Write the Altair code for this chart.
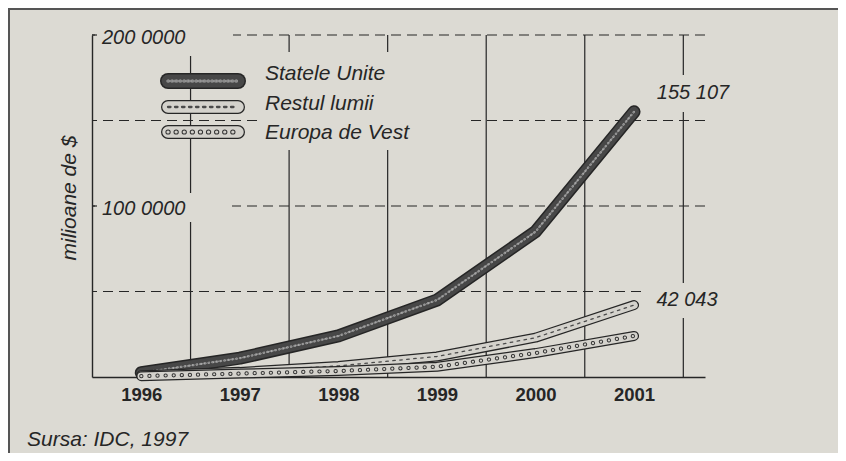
import altair as alt
import pandas as pd

# ---- data ----
years = [1996, 1997, 1998, 1999, 2000, 2001]
statele_unite = [2500, 11000, 24000, 45000, 85000, 155107]
restul_lumii = [1000, 3000, 6500, 12000, 23000, 42043]
europa_de_vest = [500, 2000, 3500, 6000, 14000, 24000]
series_names = ["Statele Unite", "Restul lumii", "Europa de Vest"]
grid_values = [50000, 100000, 150000, 200000]
tick_values = [100000, 200000]
tick_labels = ["100 0000", "200 0000"]
end_labels = ["155 107", "42 043"]
y_title = "milioane de $"
source_text = "Sursa: IDC, 1997"

# ---- styling ----
BG = "#dcdad3"
INK = "#262626"
W, H = 613, 342
FONT = "Liberation Sans, Arial, sans-serif"
BOLDFONT = "Liberation Sans, Arial, sans-serif"

df = pd.DataFrame({
    "year": years * 3,
    "value": statele_unite + restul_lumii + europa_de_vest,
    "series": [n for n in series_names for _ in years],
})
one = pd.DataFrame({"a": [0]})

xs = alt.Scale(domain=[1995.5, 2001.72], nice=False, zero=False)
ys = alt.Scale(domain=[0, 200000], nice=False)
xaxis = alt.Axis(title=None, values=years, format="d", labelFont=BOLDFONT,
                 labelFontSize=18.5, labelFontWeight="bold", labelColor=INK,
                 labelPadding=8, ticks=False, grid=False, domain=True,
                 domainColor=INK, domainWidth=1.4)
yaxis = alt.Axis(title=None, labels=False, ticks=False, grid=False,
                 domain=True, domainColor=INK, domainWidth=1.4)

layers = []

# dashed horizontal grid lines
layers.append(
    alt.Chart(pd.DataFrame({"v": grid_values}))
    .mark_rule(strokeDash=[10, 6], color=INK, strokeWidth=1.2)
    .encode(y=alt.Y("v:Q", scale=ys, axis=yaxis))
)
# vertical separators between years
layers.append(
    alt.Chart(pd.DataFrame({"b": [y + 0.5 for y in years]}))
    .mark_rule(color=INK, strokeWidth=1.2)
    .encode(x=alt.X("b:Q", scale=xs, axis=xaxis))
)


def mask(x0, x1, y0, y1):
    return alt.Chart(one).mark_rect(color=BG).encode(
        x=alt.value(x0), x2=alt.value(x1), y=alt.value(y0), y2=alt.value(y1))


layers += [
    mask(3, 141, -11, 21),      # "200 0000"
    mask(3, 140, 158, 187),     # "100 0000"
    mask(168, 378, 17, 115),    # legend text
    mask(553, 650, 40, 77),     # "155 107"
    mask(553, 650, 248, 283),   # "42 043"
]


def series_line(name, outline_w, fill_w, fill_col, textures):
    base = alt.Chart(df).transform_filter(alt.datum.series == name).encode(
        x=alt.X("year:Q", scale=xs, axis=xaxis),
        y=alt.Y("value:Q", scale=ys, axis=yaxis),
    )
    out = [
        base.mark_line(color=INK, strokeWidth=outline_w, strokeCap="round",
                       strokeJoin="round"),
        base.mark_line(color=fill_col, strokeWidth=fill_w, strokeCap="round",
                       strokeJoin="round"),
    ]
    for col, w, dash in textures:
        out.append(base.mark_line(color=col, strokeWidth=w, strokeDash=dash,
                                  strokeCap="round", strokeJoin="round"))
    return out


US_TEX = [("#a8a8a8", 2.2, [0.5, 3.5]), ("#8a8a8a", 1.5, [0.5, 2.6])]
RL_TEX = [("#4a4a4a", 1.3, [2.5, 4.5])]
EU_TEX = [("#333333", 4.2, [0.1, 8]), ("#d2d0ca", 2.2, [0.1, 8])]

layers += series_line(series_names[0], 13, 10, "#474747", US_TEX)
layers += series_line(series_names[1], 10, 7.5, "#d4d2cc", RL_TEX)
layers += series_line(series_names[2], 10, 7.5, "#d4d2cc", EU_TEX)

# legend (custom)
leg_sym_y = [46, 72, 97]
leg_txt_y = [39, 69, 98]
leg_styles = [
    (16, 13, "#474747", US_TEX),
    (14, 11.5, "#d4d2cc", RL_TEX),
    (14, 11.5, "#d4d2cc", EU_TEX),
]
for i, name in enumerate(series_names):
    ow, fw, fc, tex = leg_styles[i]
    enc = dict(x=alt.value(76), x2=alt.value(146), y=alt.value(leg_sym_y[i]))
    layers.append(alt.Chart(one).mark_rule(color=INK, strokeWidth=ow,
                                           strokeCap="round").encode(**enc))
    layers.append(alt.Chart(one).mark_rule(color=fc, strokeWidth=fw,
                                           strokeCap="round").encode(**enc))
    for col, w, dash in tex:
        layers.append(alt.Chart(one).mark_rule(
            color=col, strokeWidth=w + 1, strokeDash=dash,
            strokeCap="round").encode(**enc))
    layers.append(
        alt.Chart(pd.DataFrame({"t": [name]}))
        .mark_text(align="left", baseline="middle", font=FONT,
                   fontStyle="italic", fontSize=21, color=INK)
        .encode(x=alt.value(173), y=alt.value(leg_txt_y[i]), text="t:N")
    )

# y tick labels written inside the plot + small inward ticks
tick_df = pd.DataFrame({"v": tick_values, "t": tick_labels})
layers.append(
    alt.Chart(tick_df).mark_rule(color=INK, strokeWidth=1.2).encode(
        y=alt.Y("v:Q", scale=ys, axis=yaxis), x=alt.value(0), x2=alt.value(5))
)
layers.append(
    alt.Chart(tick_df)
    .mark_text(align="left", baseline="middle", font=FONT, fontStyle="italic",
               fontSize=20, color=INK, dy=3)
    .encode(y=alt.Y("v:Q", scale=ys, axis=yaxis), x=alt.value(10), text="t:N")
)

# end value labels
for lbl, (px, py) in zip(end_labels, [(601, 58), (595, 265)]):
    layers.append(
        alt.Chart(pd.DataFrame({"t": [lbl]}))
        .mark_text(align="center", baseline="middle", font=FONT,
                   fontStyle="italic", fontSize=20, color=INK)
        .encode(x=alt.value(px), y=alt.value(py), text="t:N")
    )

# axis title (rotated) and source
layers.append(
    alt.Chart(pd.DataFrame({"t": [y_title]}))
    .mark_text(align="center", baseline="middle", font=FONT, fontStyle="italic",
               fontSize=21, color=INK, angle=270)
    .encode(x=alt.value(-22), y=alt.value(163), text="t:N")
)
layers.append(
    alt.Chart(pd.DataFrame({"t": [source_text]}))
    .mark_text(align="left", baseline="middle", font=FONT, fontStyle="italic",
               fontSize=21, color=INK)
    .encode(x=alt.value(-65), y=alt.value(405), text="t:N")
)

# page frame lines
layers.append(alt.Chart(one).mark_rule(color="#555555", strokeWidth=2).encode(
    x=alt.value(-84), x2=alt.value(746), y=alt.value(-26)))
layers.append(alt.Chart(one).mark_rule(color="#555555", strokeWidth=2).encode(
    x=alt.value(-83), y=alt.value(-27), y2=alt.value(418)))

chart = (
    alt.layer(*layers)
    .properties(
        width=W, height=H, background=BG,
        padding={"left": 84, "top": 27, "right": 133, "bottom": 76},
        autosize=alt.AutoSizeParams(type="none"),
    )
    .configure_view(stroke=None)
)

chart.save("out.html", embed_options={"renderer": "svg", "actions": False})
